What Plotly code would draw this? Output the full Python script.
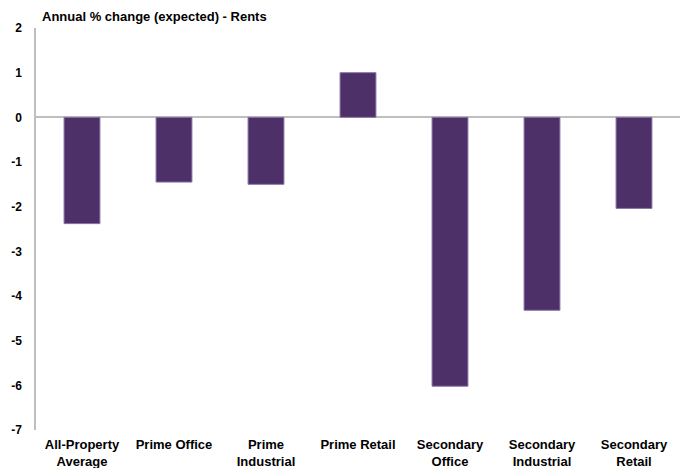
import plotly.graph_objects as go

categories = ["All-Property<br>Average", "Prime Office", "Prime<br>Industrial", "Prime Retail",
              "Secondary<br>Office", "Secondary<br>Industrial", "Secondary<br>Retail"]
values = [-2.38, -1.45, -1.5, 1.0, -6.02, -4.32, -2.04]
y_ticks = [2, 1, 0, -1, -2, -3, -4, -5, -6, -7]

fig = go.Figure()
fig.add_trace(go.Bar(
    x=categories, y=values,
    marker=dict(color="#4E3068", line=dict(color="#8C74A8", width=1)),
    width=0.39,
))

fig.update_layout(
    width=680, height=460,
    margin=dict(l=28, r=8, t=20, b=38, autoexpand=False),
    paper_bgcolor="white", plot_bgcolor="white",
    font=dict(family="Liberation Sans, Arial", size=12, color="black"),
    showlegend=False,
    title=dict(text="<b>Annual % change (expected) - Rents</b>", x=0, xref="paper", xanchor="left",
               y=1, yref="container", yanchor="top", pad=dict(t=4, l=6),
               font=dict(size=13, family="Liberation Sans, Arial", color="black")),
    xaxis=dict(showline=False, ticks="", tickfont=dict(size=13), tickangle=0,
               range=[-0.5, 6.5], automargin=False, ticklabelstandoff=5),
    yaxis=dict(range=[-7, 2], tickvals=y_ticks, ticktext=[f"<b>{v}</b>" for v in y_ticks],
               showgrid=False, showline=True, linecolor="#BFBFBF", linewidth=1.5,
               zeroline=True, zerolinecolor="#BFBFBF", zerolinewidth=1.5,
               ticks="", ticklabelstandoff=10, tickfont=dict(size=12), automargin=False),
)
fig.update_xaxes(ticktext=[f"<b>{c}</b>" for c in categories], tickvals=categories)

fig.write_html("out.html")
